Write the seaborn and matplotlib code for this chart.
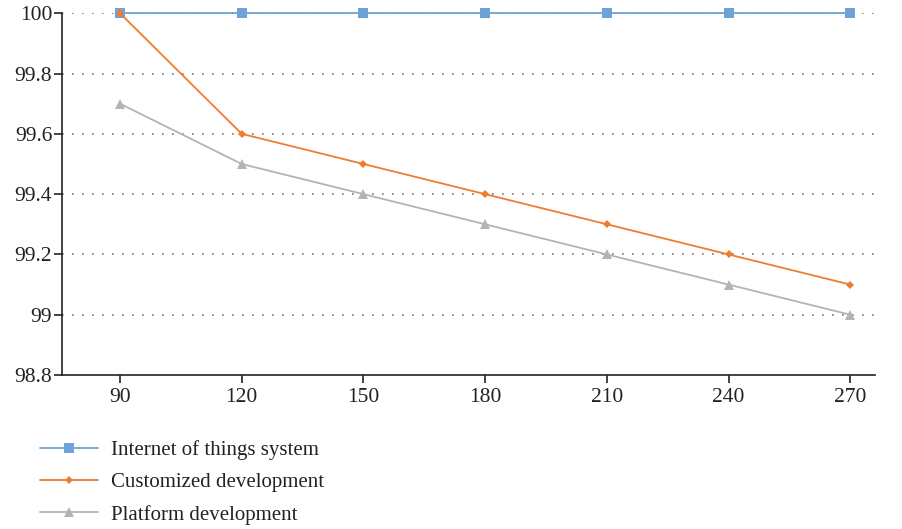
import pandas as pd
import matplotlib
matplotlib.use("Agg")
import matplotlib.pyplot as plt
import seaborn as sns

# Dados
days = [90, 120, 150, 180, 210, 240, 270]
iot_system = [100, 100, 100, 100, 100, 100, 100]
customized = [100, 99.6, 99.5, 99.4, 99.3, 99.2, 99.1]
platform = [99.7, 99.5, 99.4, 99.3, 99.2, 99.1, 99.0]
series_names = ["Internet of things system", "Customized development", "Platform development"]

df = pd.DataFrame({
    "x": days * 3,
    "y": iot_system + customized + platform,
    "serie": [series_names[0]] * 7 + [series_names[1]] * 7 + [series_names[2]] * 7,
})

sns.set_style("white")
plt.rcParams["font.family"] = ["Liberation Serif", "DejaVu Serif"]

fig = plt.figure(figsize=(9.02, 5.29), dpi=100)
ax = fig.add_axes([0.0687, 0.291, 0.901, 0.684])

cores = {series_names[0]: "#6fa3d8", series_names[1]: "#ed7d31", series_names[2]: "#b4b4b4"}
marcadores = {series_names[0]: "s", series_names[1]: "D", series_names[2]: "^"}
tamanhos = {series_names[0]: 6.5, series_names[1]: 4.5, series_names[2]: 6.5}
ordem = {series_names[0]: 4, series_names[1]: 5, series_names[2]: 3}

for nome in series_names:
    sub = df[df["serie"] == nome]
    sns.lineplot(data=sub, x="x", y="y", color=cores[nome], marker=marcadores[nome],
                 markersize=tamanhos[nome], markeredgewidth=0, linewidth=1.3,
                 label=nome, ax=ax, zorder=ordem[nome], clip_on=False)

ax.set_xlim(75.7, 276)
ax.set_ylim(98.8, 100)
ax.set_xticks(days)
ax.set_yticks([98.8, 99, 99.2, 99.4, 99.6, 99.8, 100])
ax.set_yticklabels(["98.8", "99", "99.2", "99.4", "99.6", "99.8", "100"])
ax.set_xlabel("")
ax.set_ylabel("")

for v in [99, 99.2, 99.4, 99.6, 99.8, 100]:
    ax.axhline(v, color="#777777", linestyle=(0, (1, 5)), linewidth=1.2, zorder=1)

sns.despine(ax=ax, top=True, right=True)
ax.spines["left"].set_color("#222222")
ax.spines["bottom"].set_color("#222222")
ax.spines["left"].set_linewidth(1.2)
ax.spines["bottom"].set_linewidth(1.2)
ax.tick_params(axis="both", direction="out", length=6, width=1.2, color="#222222",
               labelsize=15.5, labelcolor="#222222", left=True, bottom=True)
ax.tick_params(axis="x", pad=3)
ax.tick_params(axis="y", pad=1)

leg = ax.legend(loc="upper left", bbox_to_anchor=(-0.05, -0.128), frameon=False,
                fontsize=15, labelspacing=0.6, handlelength=2.8, handletextpad=0.6)
for t in leg.get_texts():
    t.set_color("#222222")

fig.savefig("out.png", dpi=100)
